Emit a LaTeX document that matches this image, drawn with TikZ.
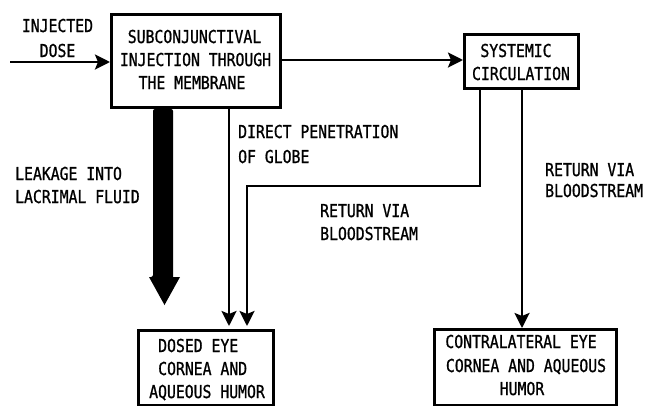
\documentclass[tikz,border=0pt]{standalone}
\usepackage{fontspec}
\setmainfont[FakeStretch=0.83,FakeBold=1]{DejaVu Sans Mono}
\usetikzlibrary{arrows.meta}
\tikzset{
  box/.style={draw, line width=3pt, minimum width=#1, inner sep=0pt, anchor=north west},
  conn/.style={line width=2.6pt, -{Stealth[length=15pt,width=15pt,inset=3pt]}},
  lbl/.style={inner sep=0pt, font=\fontsize{17.8}{25}\selectfont},
  txt/.style={lbl, anchor=base west},
  ctxt/.style={lbl, anchor=base},
}
\begin{document}
\begin{tikzpicture}[x=1pt,y=-1pt]
\useasboundingbox (0,0) rectangle (645,405);

% boxes
\node[box=169pt, minimum height=93pt] (inj) at (110,13) {};
\node[box=114pt, minimum height=54pt] (sys) at (463,33) {};
\node[box=135pt, minimum height=75pt] (dosed) at (137,329) {};
\node[box=182pt, minimum height=76pt] (contra) at (433,328) {};

% box texts
\node[ctxt] (inj1) at (194.5,43) {SUBCONJUNCTIVAL};
\node[ctxt] (inj2) at (195.5,66) {INJECTION THROUGH};
\node[ctxt] (inj3) at (192,89) {THE MEMBRANE};
\node[ctxt] (sys1) at (516,57) {SYSTEMIC};
\node[ctxt] (sys2) at (521,80) {CIRCULATION};
\node[txt] (dos1) at (158,352) {DOSED EYE};
\node[txt] (dos2) at (158,375) {CORNEA AND};
\node[txt] (dos3) at (149,398) {AQUEOUS HUMOR};
\node[ctxt] (con1) at (521,348) {CONTRALATERAL EYE};
\node[ctxt] (con2) at (526,372) {CORNEA AND AQUEOUS};
\node[ctxt] (con3) at (522,395) {HUMOR};

% free labels
\node[ctxt] (dose1) at (57.5,32) {INJECTED};
\node[ctxt] (dose2) at (57.5,57) {DOSE};
\node[txt] (pen1) at (238,138) {DIRECT PENETRATION};
\node[txt] (pen2) at (238,163) {OF GLOBE};
\node[txt] (leak1) at (15,180) {LEAKAGE INTO};
\node[txt] (leak2) at (15,203) {LACRIMAL FLUID};
\node[txt] (retm1) at (320,217) {RETURN VIA};
\node[txt] (retm2) at (320,240) {BLOODSTREAM};
\node[txt] (retr1) at (545,176) {RETURN VIA};
\node[txt] (retr2) at (545,197) {BLOODSTREAM};

% connector positions
\coordinate (start) at (10,62);
\coordinate (pen) at (229,0);
\coordinate (rl) at (480,186);
\coordinate (rk) at (247,186);
\coordinate (rr) at (522,0);

% connectors
\draw[conn] (start) -- (inj.west |- start);
\draw[conn] (inj.east |- 0,60) -- (sys.west |- 0,60);
\draw[conn, shorten >=3pt] (inj.south -| pen) -- (dosed.north -| pen);
\draw[conn, shorten >=3pt] (sys.south -| rl) -- (rl) -- (rk) -- (dosed.north -| rk);
\draw[conn] (sys.south -| rr) -- (contra.north -| rr);

% heavy leakage arrow
\fill[rounded corners=2pt] (153,109) -- (153,277) [sharp corners] -- (149,277) -- (164.5,305) -- (180,277) -- (173,277) [rounded corners=2pt] -- (173,109) -- cycle;
\end{tikzpicture}
\end{document}
